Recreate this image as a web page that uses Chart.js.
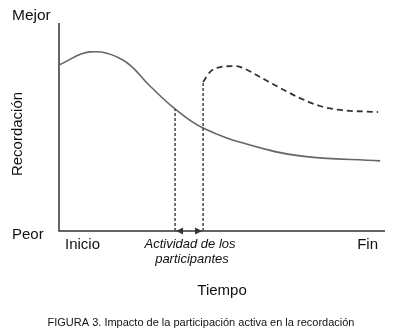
<!DOCTYPE html>
<html>
<head>
<meta charset="utf-8">
<script src="https://cdn.jsdelivr.net/npm/chart.js@4.4.1/dist/chart.umd.min.js"></script>
<style>
  html, body { margin: 0; padding: 0; background: #fff; }
  #wrap { width: 400px; height: 336px; }
</style>
</head>
<body>
<div id="wrap"><canvas id="recordacion_chart" width="400" height="336"></canvas></div>
<script>
// Curva de recordación sin actividad (tiempo 0-100, recordación 0-100)
const tiempoBase = [0, 9.5, 19.6, 27.9, 35.6, 44.2, 58.6, 73.9, 98.5];
const recordBase = [79.8, 86.1, 82.2, 69.7, 58.7, 49.5, 41.3, 36.1, 33.7];

// Curva después de la actividad de los participantes
const tiempoActivo = [44.2, 46.3, 49.4, 54.0, 56.4, 61.7, 67.8, 73.9, 80.1, 86.2, 97.9];
const recordActivo = [71.6, 76.4, 78.8, 79.3, 78.4, 74.0, 68.8, 63.9, 60.1, 58.2, 57.2];

// Ventana de la actividad
const actividadInicio = 35.6;
const actividadFin = 44.2;

const etiquetasY = ["Peor", "Mejor"];
const etiquetasX = ["Inicio", "Fin"];

function toPoints(xs, ys) {
    return xs.map((x, i) => ({ x: x, y: ys[i] }));
}

// Axes, arrows and all the labels
const anotaciones = {
    id: "anotaciones",
    beforeDatasetsDraw(chart) {
        const ctx = chart.ctx;
        const a = chart.chartArea;
        ctx.save();
        ctx.strokeStyle = "#333";
        ctx.lineWidth = 1.5;
        ctx.beginPath();
        ctx.moveTo(a.left, a.top);
        ctx.lineTo(a.left, a.bottom);
        ctx.lineTo(a.right, a.bottom);
        ctx.stroke();
        ctx.restore();
    },
    afterDraw(chart) {
        const ctx = chart.ctx;
        const a = chart.chartArea;
        const xs = chart.scales.x;
        ctx.save();

        // double arrow for the activity window
        const x1 = xs.getPixelForValue(actividadInicio);
        const x2 = xs.getPixelForValue(actividadFin);
        const y = a.bottom;
        ctx.fillStyle = "#333";
        ctx.beginPath();
        ctx.moveTo(x1 + 1, y);
        ctx.lineTo(x1 + 8, y - 3.5);
        ctx.lineTo(x1 + 8, y + 3.5);
        ctx.closePath();
        ctx.fill();
        ctx.beginPath();
        ctx.moveTo(x2 - 1, y);
        ctx.lineTo(x2 - 8, y - 3.5);
        ctx.lineTo(x2 - 8, y + 3.5);
        ctx.closePath();
        ctx.fill();

        ctx.fillStyle = "#111";
        ctx.textBaseline = "middle";
        ctx.font = "15.5px 'Liberation Sans', Arial, sans-serif";
        ctx.textAlign = "left";
        ctx.fillText(etiquetasY[1], 12, 16);
        ctx.font = "15px 'Liberation Sans', Arial, sans-serif";
        ctx.fillText(etiquetasY[0], 12, 235);
        ctx.fillText(etiquetasX[0], 65, 245);
        ctx.textAlign = "right";
        ctx.fillText(etiquetasX[1], 378, 245);

        ctx.textAlign = "center";
        ctx.font = "italic 13px 'Liberation Sans', Arial, sans-serif";
        ctx.fillText("Actividad de los", 190, 244);
        ctx.fillText("participantes", 192, 259);

        ctx.font = "15px 'Liberation Sans', Arial, sans-serif";
        ctx.fillText("Tiempo", 222, 291);

        ctx.font = "11px 'Liberation Sans', Arial, sans-serif";
        ctx.fillText("FIGURA 3. Impacto de la participación activa en la recordación", 201, 323);

        ctx.translate(18, 134);
        ctx.rotate(-Math.PI / 2);
        ctx.font = "15px 'Liberation Sans', Arial, sans-serif";
        ctx.fillText("Recordación", 0, 0);
        ctx.restore();
    }
};

const ctx = document.getElementById("recordacion_chart").getContext("2d");
const recordacion_chart = new Chart(ctx, {
    type: "line",
    data: {
        datasets: [
            {
                // vertical dashed line where the activity starts
                data: [{ x: actividadInicio, y: 0 }, { x: actividadInicio, y: recordBase[tiempoBase.indexOf(actividadInicio)] }],
                borderColor: "#444",
                borderWidth: 1.5,
                borderDash: [3, 2],
                tension: 0
            },
            {
                // vertical dashed line where the activity ends
                data: [{ x: actividadFin, y: 0 }, { x: actividadFin, y: recordActivo[0] }],
                borderColor: "#444",
                borderWidth: 1.5,
                borderDash: [3, 2],
                tension: 0
            },
            {
                data: toPoints(tiempoBase, recordBase),
                borderColor: "#666",
                borderWidth: 1.6,
                tension: 0.4
            },
            {
                data: toPoints(tiempoActivo, recordActivo),
                borderColor: "#333",
                borderWidth: 1.8,
                borderDash: [6, 4],
                cubicInterpolationMode: "monotone"
            }
        ]
    },
    options: {
        responsive: false,
        animation: false,
        layout: { padding: { left: 59, top: 23, right: 15, bottom: 105 } },
        elements: { point: { radius: 0 } },
        plugins: { legend: { display: false }, tooltip: { enabled: false } },
        scales: {
            x: { type: "linear", min: 0, max: 100, display: false },
            y: { type: "linear", min: 0, max: 100, display: false }
        }
    },
    plugins: [anotaciones]
});
</script>
</body>
</html>
